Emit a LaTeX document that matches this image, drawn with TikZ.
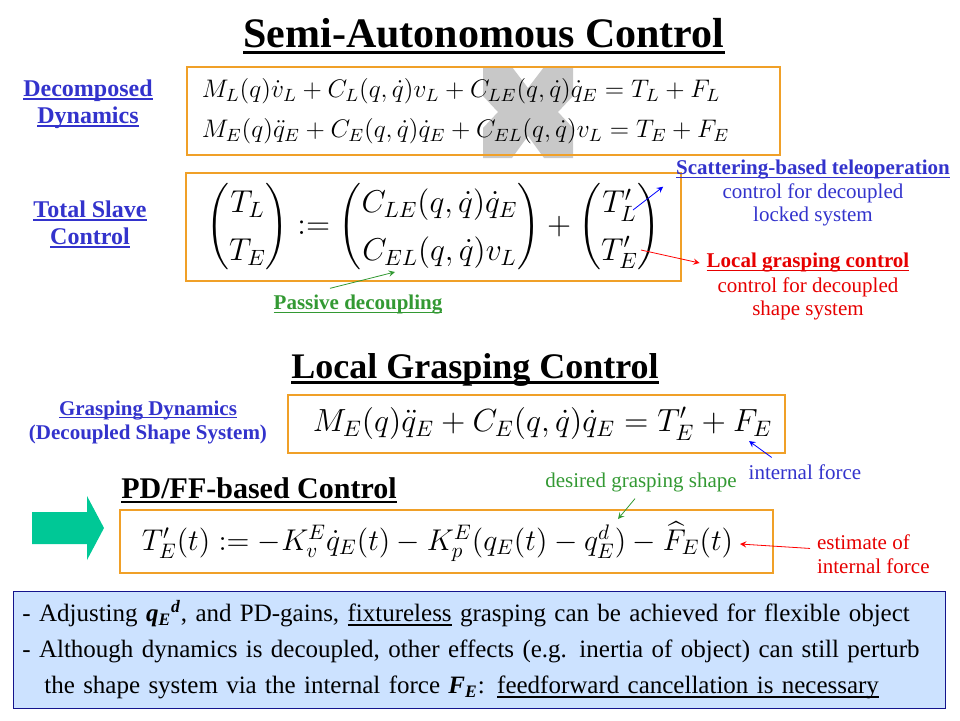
\RequirePackage{fix-cm}
\documentclass[tikz,border=0pt]{standalone}
\usepackage{amsmath}
\usepackage[no-math]{fontspec}
\setmainfont{Liberation Serif}

\definecolor{boxorange}{RGB}{240,160,40}
\definecolor{lblblue}{RGB}{51,51,204}
\definecolor{lblred}{RGB}{230,0,0}
\definecolor{lblgreen}{RGB}{51,153,51}
\definecolor{arrowteal}{RGB}{0,200,150}
\definecolor{xgray}{RGB}{200,200,200}
\definecolor{notefill}{RGB}{204,226,255}
\definecolor{noteline}{RGB}{20,20,140}

% underline that runs through the descenders
\newlength\ulwd
\newcommand\lineunder[1]{\settowidth\ulwd{#1}\rlap{#1}\rule[-0.15em]{\ulwd}{0.07em}}

\begin{document}
\begin{tikzpicture}[x=0.5pt, y=-0.5pt,
    ttl/.style={font=\fontsize{21}{25}\selectfont\bfseries},
    eqbox/.style={draw=boxorange, line width=1pt, inner sep=0pt},
    lbl/.style={font=\fontsize{12}{13.5}\selectfont\bfseries, text=lblblue, align=center},
    small/.style={font=\fontsize{10.5}{11.5}\selectfont, align=center},
    arr/.style={->, >=stealth, thin},
  ]
  \useasboundingbox (0,0) rectangle (960,720);

  % --- Semi-autonomous control ---
  \node[ttl] (title) at (484,36) {\lineunder{Semi-Autonomous Control}};

  \fill[xgray] (483,67) -- (512,67) -- (528,88) -- (544,67) -- (573,67) -- (573,96)
    -- (558,112) -- (573,128) -- (573,158) -- (544,158) -- (528,136) -- (512,158)
    -- (483,158) -- (483,128) -- (498,112) -- (483,96) -- cycle;

  \node[eqbox, minimum width=296.5pt, minimum height=44pt,
        font=\fontsize{12.7}{16}\selectfont] (dyn) at (483.5,111)
    {$\begin{array}{@{}l@{}}
      M_L(q)\dot v_L + C_L(q,\dot q)v_L + C_{LE}(q,\dot q)\dot q_E = T_L + F_L\\[4pt]
      M_E(q)\ddot q_E + C_E(q,\dot q)\dot q_E + C_{EL}(q,\dot q)v_L = T_E + F_E
     \end{array}\hspace{18pt}$};
  \node[lbl] (declbl) at (88,104) {\lineunder{Decomposed}\\\lineunder{Dynamics}};

  \node[eqbox, minimum width=247.5pt, minimum height=54pt,
        font=\fontsize{15.8}{19}\selectfont] (slave) at (433.5,227)
    {$\renewcommand{\arraystretch}{1.25}
      \begin{pmatrix}T_L\\T_E\end{pmatrix} :=
      \begin{pmatrix}C_{LE}(q,\dot q)\dot q_E\\C_{EL}(q,\dot q)v_L\end{pmatrix} +
      \begin{pmatrix}T'_L\\T'_E\end{pmatrix}$};
  \node[lbl] (slvlbl) at (90,224) {\lineunder{Total Slave}\\\lineunder{Control}};

  \node[small, font=\fontsize{10.5}{11.5}\selectfont\bfseries, text=lblblue] (scat) at (813,170)
    {\lineunder{Scattering-based teleoperation}};
  \node[small, text=lblblue] (scatsub) at (813,204.5) {control for decoupled\\locked system};
  \node[small, font=\fontsize{10.5}{11.5}\selectfont\bfseries, text=lblred] (lgc) at (808,263)
    {\lineunder{Local grasping control}};
  \node[small, text=lblred] (lgcsub) at (808,298.5) {control for decoupled\\shape system};
  \node[small, font=\fontsize{10.5}{11.5}\selectfont\bfseries, text=lblgreen] (pdec) at (358,305)
    {\lineunder{Passive decoupling}};

  \coordinate (tl) at (633,210);
  \coordinate (te) at (641,250);
  \coordinate (cel) at (395,272);
  \draw[arr, blue] (tl) -- ([xshift=-3pt]scat.south west);
  \draw[arr, red] (te) -- (lgc.west);
  \draw[arr, lblgreen] ([xshift=-14pt]pdec.north) -- (cel);

  % --- Local grasping control ---
  \node[ttl, font=\fontsize{18}{22}\selectfont\bfseries] (lgtitle) at (475,370)
    {\lineunder{Local Grasping Control}};
  \node[small, font=\fontsize{10.5}{12}\selectfont\bfseries, text=lblblue] (gd) at (148,422)
    {\lineunder{Grasping Dynamics}\\(Decoupled Shape System)};
  \node[eqbox, minimum width=248.5pt, minimum height=29pt,
        font=\fontsize{16}{19}\selectfont] (grasp) at (536.5,424)
    {$\hspace{6pt}M_E(q)\ddot q_E + C_E(q,\dot q)\dot q_E = T'_E + F_E$};
  \node[small, text=lblblue] (inf) at (805,472) {internal force};
  \coordinate (fe) at (749,441);
  \draw[arr, blue] ([xshift=15pt]inf.north west) -- (fe);

  \node[ttl, font=\fontsize{15}{18}\selectfont\bfseries] (pdtitle) at (259,490)
    {\lineunder{PD/FF-based Control}};
  \node[small, text=lblgreen] (des) at (641,482) {desired grasping shape};
  \fill[arrowteal] (32,512) -- (87,512) -- (87,496) -- (104,528) -- (87,560)
    -- (87,544) -- (32,544) -- cycle;
  \node[eqbox, minimum width=326.5pt, minimum height=31.5pt,
        font=\fontsize{15}{18}\selectfont] (pdff) at (446.5,541.5)
    {$T'_E(t) := -K_v^E\dot q_E(t) - K_p^E(q_E(t) - q_E^d) - \widehat{F}_E(t)\hspace{9pt}$};
  \node[small, align=left, text=lblred, font=\fontsize{10.5}{12}\selectfont,
        anchor=west] (est) at (810,554) {estimate of\\internal force};
  \coordinate (qd) at (618,519);
  \coordinate (fhat) at (740,544);
  \draw[arr, lblgreen] ([xshift=-3pt]des.south) -- (qd);
  \draw[arr, red] ([yshift=-10.5pt]est.north west) -- (fhat);

  % --- remarks ---
  \node[draw=noteline, fill=notefill, thin, anchor=north west, inner xsep=4.5pt,
        text width=457pt, minimum height=58.5pt, align=left,
        font=\fontsize{12.5}{18}\selectfont] (notes) at (13,591)
    {- Adjusting {\bfseries\itshape q\textsubscript{E}\textsuperscript{d}}, and PD-gains,
     \lineunder{fixtureless} grasping can be achieved for flexible object\\
     - Although dynamics is decoupled, other effects (e.g. inertia of object) can still perturb\\
     \hspace*{11pt}the shape system via the internal force {\bfseries\itshape F\textsubscript{E}}:
     \lineunder{feedforward cancellation is necessary}};
\end{tikzpicture}
\end{document}
